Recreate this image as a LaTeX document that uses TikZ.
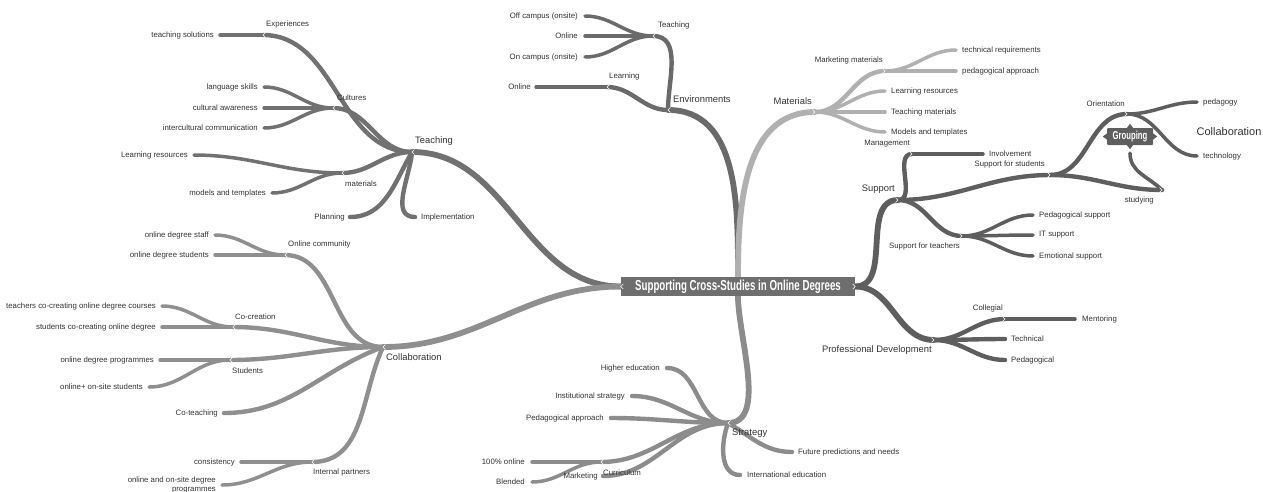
\documentclass[tikz,border=0pt]{standalone}
\usepackage{fontspec}
\setmainfont{Liberation Sans}
\usetikzlibrary{positioning, backgrounds}

\definecolor{rootgray}{HTML}{6E6E6E}
\definecolor{teachgray}{HTML}{717171}
\definecolor{envgray}{HTML}{6A6A6A}
\definecolor{matgray}{HTML}{B0B0B0}
\definecolor{suppgray}{HTML}{5E5E5E}
\definecolor{stratgray}{HTML}{8C8C8C}
\definecolor{collgray}{HTML}{8F8F8F}
\definecolor{txtgray}{HTML}{333333}

\newcommand{\condtxt}[2]{\scalebox{0.67}[1]{\fontsize{#1}{#1}\selectfont\bfseries #2}}

\begin{document}
\begin{tikzpicture}[
	x=1pt, y=1pt,
	font=\fontsize{7.8}{9}\selectfont, text=txtgray,
	root/.style={fill=rootgray, text=white, minimum width=234pt, minimum height=19pt, inner sep=0pt},
	floatbox/.style={fill=suppgray, text=white, minimum width=46pt, minimum height=17pt, inner sep=0pt, rounded corners=1pt},
	main/.style={inner sep=0pt, font=\fontsize{9.4}{11}\selectfont},
	lbl/.style={inner sep=0pt},
	br1/.style={line width=5.8pt, line cap=round},
	br2/.style={line width=4.4pt, line cap=round},
	br3/.style={line width=3.5pt, line cap=round},
	rel/.style={line width=3.6pt, line cap=round, suppgray},
	chev/.style={white, line width=0.6pt}
	]
	\useasboundingbox (0,0) rectangle (1263,-491);

	% Central topic
	\node[root] (root) at (738,-286.5) {\condtxt{14.5}{Supporting Cross-Studies in Online Degrees}};

	% Teaching
	\coordinate (teach) at (412,-152);
	\coordinate (exper) at (263,-35);
	\coordinate (tsol) at (220,-35);
	\coordinate (cult) at (333,-108);
	\coordinate (lang) at (264,-87);
	\coordinate (caware) at (264,-108);
	\coordinate (icomm) at (264,-128);
	\coordinate (tmat) at (342,-173);
	\coordinate (lres) at (194,-155);
	\coordinate (mtpl) at (272,-193);
	\coordinate (plan) at (350,-217);
	\coordinate (impl) at (415,-217);
	\begin{scope}[on background layer={teachgray}]
		\draw[br1] (root.west) to[out=180, in=0] (teach);
		\draw[br2] (teach) to[out=180, in=0] (exper);
		\draw[br3] (exper) -- (tsol);
		\draw[br2] (teach) to[out=180, in=0] (cult);
		\foreach \e in {lang, caware, icomm}
			\draw[br3] (cult) to[out=180, in=0] (\e);
		\draw[br2] (teach) to[out=180, in=0] (tmat);
		\foreach \e in {lres, mtpl}
			\draw[br3] (tmat) to[out=180, in=0] (\e);
		\draw[br2] (teach) to[out=240, in=0] (plan);
		\draw[br2] (teach) to[out=265, in=180] (impl);
	\end{scope}
	\node[main, right=3pt of teach, yshift=10.5pt] (teach_lbl) {Teaching};
	\node[lbl, right=3pt of exper, yshift=10.5pt] (exper_lbl) {Experiences};
	\node[lbl, left=6pt of tsol] (tsol_lbl) {teaching solutions};
	\node[lbl, right=4pt of cult, yshift=10.5pt] (cult_lbl) {Cultures};
	\node[lbl, left=6pt of lang] (lang_lbl) {language skills};
	\node[lbl, left=6pt of caware] (caware_lbl) {cultural awareness};
	\node[lbl, left=6pt of icomm] (icomm_lbl) {intercultural communication};
	\node[lbl, right=3pt of tmat, yshift=-10.5pt] (tmat_lbl) {materials};
	\node[lbl, left=6pt of lres] (lres_lbl) {Learning resources};
	\node[lbl, left=6pt of mtpl] (mtpl_lbl) {models and templates};
	\node[lbl, left=5pt of plan] (plan_lbl) {Planning};
	\node[lbl, right=6pt of impl] (impl_lbl) {Implementation};

	% Collaboration
	\coordinate (coll) at (383,-347);
	\coordinate (ocomm) at (285,-255);
	\coordinate (ostaff) at (215,-235);
	\coordinate (ostud) at (215,-255);
	\coordinate (cocr) at (233,-327);
	\coordinate (tcocr) at (162,-306);
	\coordinate (scocr) at (162,-327);
	\coordinate (studs) at (230,-360);
	\coordinate (odprog) at (160,-360);
	\coordinate (onsite) at (149,-387);
	\coordinate (coteach) at (224,-413);
	\coordinate (ipart) at (312,-462);
	\coordinate (consist) at (241,-462);
	\coordinate (oodeg) at (222,-485);
	\begin{scope}[on background layer={collgray}]
		\draw[br1] (root.west) to[out=180, in=0] (coll);
		\draw[br2] (coll) to[out=180, in=0] (ocomm);
		\foreach \e in {ostaff, ostud}
			\draw[br3] (ocomm) to[out=180, in=0] (\e);
		\draw[br2] (coll) to[out=180, in=0] (cocr);
		\foreach \e in {tcocr, scocr}
			\draw[br3] (cocr) to[out=180, in=0] (\e);
		\draw[br2] (coll) to[out=180, in=0] (studs);
		\foreach \e in {odprog, onsite}
			\draw[br3] (studs) to[out=180, in=0] (\e);
		\draw[br2] (coll) to[out=200, in=0] (coteach);
		\draw[br2] (coll) to[out=245, in=0] (ipart);
		\foreach \e in {consist, oodeg}
			\draw[br3] (ipart) to[out=180, in=0] (\e);
	\end{scope}
	\node[main, right=3pt of coll, yshift=-10.5pt] (coll_lbl) {Collaboration};
	\node[lbl, right=3pt of ocomm, yshift=10.5pt] (ocomm_lbl) {Online community};
	\node[lbl, left=6pt of ostaff] (ostaff_lbl) {online degree staff};
	\node[lbl, left=6pt of ostud] (ostud_lbl) {online degree students};
	\node[lbl, right=2pt of cocr, yshift=10.5pt] (cocr_lbl) {Co-creation};
	\node[lbl, left=6pt of tcocr] (tcocr_lbl) {teachers co-creating online degree courses};
	\node[lbl, left=6pt of scocr] (scocr_lbl) {students co-creating online degree};
	\node[lbl, right=2pt of studs, yshift=-10.5pt] (studs_lbl) {Students};
	\node[lbl, left=6pt of odprog] (odprog_lbl) {online degree programmes};
	\node[lbl, left=6pt of onsite] (onsite_lbl) {online+ on-site students};
	\node[lbl, left=6pt of coteach] (coteach_lbl) {Co-teaching};
	\node[lbl, right=1pt of ipart, yshift=-10.5pt] (ipart_lbl) {Internal partners};
	\node[lbl, left=6pt of consist] (consist_lbl) {consistency};
	\node[lbl, left=6pt of oodeg, align=right] (oodeg_lbl) {online and on-site degree\\programmes};

	% Environments
	\coordinate (env) at (668,-110);
	\coordinate (eteach) at (653,-36);
	\coordinate (offc) at (585,-16);
	\coordinate (eonl) at (585,-36);
	\coordinate (onc) at (585,-57);
	\coordinate (elearn) at (607,-87);
	\coordinate (lonl) at (536,-87);
	\begin{scope}[on background layer={envgray}]
		\draw[br1] (root.north) to[out=90, in=0] (env);
		\draw[br2] (env) to[out=90, in=0] (eteach);
		\foreach \e in {offc, eonl, onc}
			\draw[br3] (eteach) to[out=180, in=0] (\e);
		\draw[br2] (env) to[out=180, in=0] (elearn);
		\draw[br3] (elearn) -- (lonl);
	\end{scope}
	\node[main, right=5pt of env, yshift=10.5pt] (env_lbl) {Environments};
	\node[lbl, right=5pt of eteach, yshift=10.5pt] (eteach_lbl) {Teaching};
	\node[lbl, left=7pt of offc] (offc_lbl) {Off campus (onsite)};
	\node[lbl, left=7pt of eonl] (eonl_lbl) {Online};
	\node[lbl, left=7pt of onc] (onc_lbl) {On campus (onsite)};
	\node[lbl, right=2pt of elearn, yshift=10.5pt] (elearn_lbl) {Learning};
	\node[lbl, left=5pt of lonl] (lonl_lbl) {Online};

	% Materials
	\coordinate (mat) at (815,-112);
	\coordinate (mmat) at (885,-71);
	\coordinate (treq) at (956,-50);
	\coordinate (pappr) at (956,-71);
	\coordinate (mlres) at (885,-91);
	\coordinate (tmats) at (885,-112);
	\coordinate (mtmpl) at (885,-132);
	\begin{scope}[on background layer={matgray}]
		\draw[br1] (root.north) to[out=90, in=180] (mat);
		\draw[br2] (mat) to[out=0, in=180] (mmat);
		\foreach \e in {treq, pappr}
			\draw[br3] (mmat) to[out=0, in=180] (\e);
		\foreach \e in {mlres, tmats, mtmpl}
			\draw[br3] (mat) to[out=0, in=180] (\e);
	\end{scope}
	\node[main, left=3pt of mat, yshift=10.5pt] (mat_lbl) {Materials};
	\node[lbl, left=2pt of mmat, yshift=10.5pt] (mmat_lbl) {Marketing materials};
	\node[lbl, right=6pt of treq] (treq_lbl) {technical requirements};
	\node[lbl, right=6pt of pappr] (pappr_lbl) {pedagogical approach};
	\node[lbl, right=6pt of mlres] (mlres_lbl) {Learning resources};
	\node[lbl, right=6pt of tmats] (tmats_lbl) {Teaching materials};
	\node[lbl, right=6pt of mtmpl] (mtmpl_lbl) {Models and templates};

	% Support
	\coordinate (supp) at (898,-200);
	\coordinate (mgmt) at (912,-154);
	\coordinate (invol) at (983,-154);
	\coordinate (sstud) at (1050,-175);
	\coordinate (orient) at (1127,-114);
	\coordinate (pedag) at (1197,-102);
	\coordinate (techn) at (1197,-156);
	\coordinate (stying) at (1162,-190);
	\coordinate (steach) at (962,-236);
	\coordinate (psupp) at (1033,-215);
	\coordinate (itsupp) at (1033,-235);
	\coordinate (esupp) at (1033,-256);
	\begin{scope}[on background layer={suppgray}]
		\draw[br1] (root.east) to[out=0, in=180] (supp);
		\draw[br2] (supp) to[out=0, in=180] (mgmt);
		\draw[br3] (mgmt) -- (invol);
		\draw[br2] (supp) to[out=0, in=180] (sstud);
		\draw[br2] (sstud) to[out=0, in=180] (orient);
		\foreach \e in {pedag, techn}
			\draw[br3] (orient) to[out=0, in=180] (\e);
		\draw[br2] (sstud) to[out=0, in=180] (stying);
		\draw[br2] (supp) to[out=0, in=180] (steach);
		\foreach \e in {psupp, itsupp, esupp}
			\draw[br3] (steach) to[out=0, in=180] (\e);
	\end{scope}
	\node[main, left=3pt of supp, yshift=10.5pt] (supp_lbl) {Support};
	\node[lbl, left=2pt of mgmt, yshift=10.5pt] (mgmt_lbl) {Management};
	\node[lbl, right=6pt of invol] (invol_lbl) {Involvement};
	\node[lbl, left=5pt of sstud, yshift=10.5pt] (sstud_lbl) {Support for students};
	\node[lbl, left=2pt of orient, yshift=10.5pt] (orient_lbl) {Orientation};
	\node[lbl, right=6pt of pedag] (pedag_lbl) {pedagogy};
	\node[lbl, right=6pt of techn] (techn_lbl) {technology};
	\node[lbl, left=8pt of stying, yshift=-10.5pt] (stying_lbl) {studying};
	\node[lbl, left=2pt of steach, yshift=-10.5pt] (steach_lbl) {Support for teachers};
	\node[lbl, right=6pt of psupp] (psupp_lbl) {Pedagogical support};
	\node[lbl, right=6pt of itsupp] (itsupp_lbl) {IT support};
	\node[lbl, right=6pt of esupp] (esupp_lbl) {Emotional support};

	% Grouping / Collaboration (floating)
	\node[floatbox] (grp) at (1130,-136.5) {\condtxt{11.5}{Grouping}};
	\fill[suppgray] (grp.north) ++(-3,0) -- ++(3,4) -- ++(3,-4) -- cycle;
	\fill[suppgray] (grp.south) ++(-3,0) -- ++(3,-4) -- ++(3,4) -- cycle;
	\fill[suppgray] (grp.west) ++(0,-3) -- ++(-4,3) -- ++(4,3) -- cycle;
	\fill[suppgray] (grp.east) ++(0,-3) -- ++(4,3) -- ++(-4,3) -- cycle;
	\node[inner sep=0pt, font=\fontsize{11}{13}\selectfont] (collfl) at (1229,-132) {Collaboration};
	\draw[rel] ([yshift=-8pt]grp.south) to[out=270, in=135] (stying);

	% Professional Development
	\coordinate (profd) at (934,-340);
	\coordinate (colleg) at (1005,-319);
	\coordinate (mentor) at (1075,-319);
	\coordinate (techl) at (1005,-339);
	\coordinate (pedl) at (1005,-360);
	\begin{scope}[on background layer={suppgray}]
		\draw[br1] (root.east) to[out=0, in=180] (profd);
		\draw[br2] (profd) to[out=0, in=180] (colleg);
		\draw[br3] (colleg) -- (mentor);
		\foreach \e in {techl, pedl}
			\draw[br2] (profd) to[out=0, in=180] (\e);
	\end{scope}
	\node[main, left=2pt of profd, yshift=-10.5pt] (profd_lbl) {Professional Development};
	\node[lbl, left=2pt of colleg, yshift=10.5pt] (colleg_lbl) {Collegial};
	\node[lbl, right=7pt of mentor] (mentor_lbl) {Mentoring};
	\node[lbl, right=6pt of techl] (techl_lbl) {Technical};
	\node[lbl, right=6pt of pedl] (pedl_lbl) {Pedagogical};

	% Strategy
	\coordinate (strat) at (728,-423);
	\coordinate (hied) at (667,-368);
	\coordinate (istrat) at (632,-396);
	\coordinate (spappr) at (611,-418);
	\coordinate (curr) at (601,-462);
	\coordinate (onl100) at (532,-462);
	\coordinate (blend) at (532,-482);
	\coordinate (mark) at (603,-476);
	\coordinate (future) at (792,-452);
	\coordinate (intl) at (740,-475);
	\begin{scope}[on background layer={stratgray}]
		\draw[br1] (root.south) to[out=270, in=0, looseness=0.8] (strat);
		\foreach \e in {hied, istrat, spappr, mark}
			\draw[br2] (strat) to[out=180, in=0] (\e);
		\draw[br2] (strat) to[out=180, in=0] (curr);
		\foreach \e in {onl100, blend}
			\draw[br3] (curr) to[out=180, in=0] (\e);
		\draw[br2] (strat) to[out=-30, in=180] (future);
		\draw[br2] (strat) to[out=250, in=180] (intl);
	\end{scope}
	\node[main, right=4pt of strat, yshift=-10.5pt] (strat_lbl) {Strategy};
	\node[lbl, left=7pt of hied] (hied_lbl) {Higher education};
	\node[lbl, left=7pt of istrat] (istrat_lbl) {Institutional strategy};
	\node[lbl, left=7pt of spappr] (spappr_lbl) {Pedagogical approach};
	\node[lbl, right=2pt of curr, yshift=-10.5pt] (curr_lbl) {Curriculum};
	\node[lbl, left=7pt of onl100] (onl100_lbl) {100\% online};
	\node[lbl, left=7pt of blend] (blend_lbl) {Blended};
	\node[lbl, left=5pt of mark] (mark_lbl) {Marketing};
	\node[lbl, right=6pt of future] (future_lbl) {Future predictions and needs};
	\node[lbl, right=7pt of intl] (intl_lbl) {International education};

	% Junction marks
	\foreach \c in {root.west, teach, exper, cult, tmat, coll, ocomm, cocr, studs, ipart, env, eteach, elearn, strat, curr}
		\draw[chev] ([shift={(2.5,2.5)}]\c) -- (\c) -- ([shift={(2.5,-2.5)}]\c);
	\foreach \c in {root.east, mat, mmat, supp, mgmt, sstud, orient, stying, steach, profd, colleg}
		\draw[chev] ([shift={(-2.5,2.5)}]\c) -- (\c) -- ([shift={(-2.5,-2.5)}]\c);

\end{tikzpicture}
\end{document}
